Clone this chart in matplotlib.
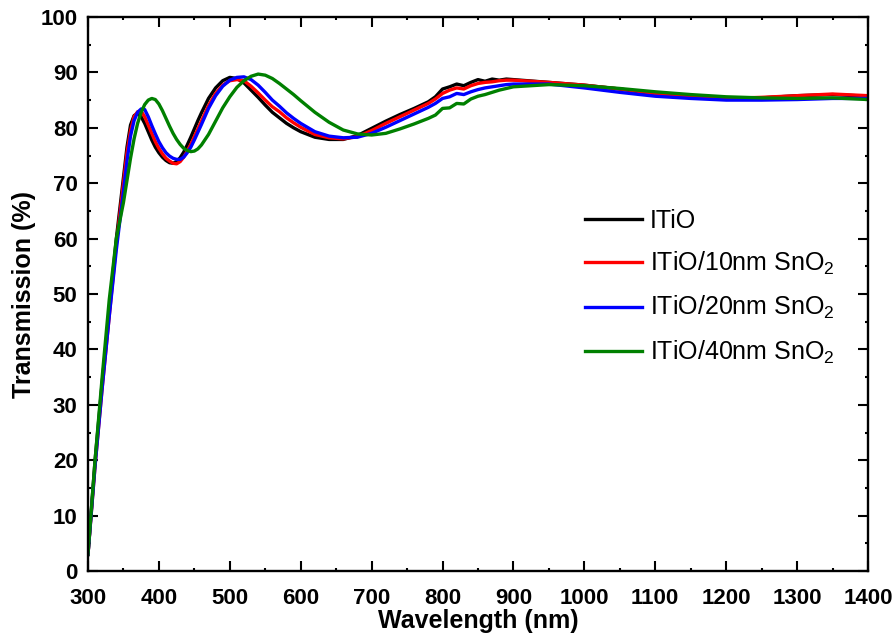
import numpy as np
import matplotlib.pyplot as plt
from matplotlib.ticker import MultipleLocator

plt.rcParams['font.family'] = ['Liberation Sans', 'DejaVu Sans']
plt.rcParams['mathtext.fontset'] = 'custom'
plt.rcParams['mathtext.rm'] = 'Liberation Sans'
plt.rcParams['mathtext.it'] = 'Liberation Sans:italic'
plt.rcParams['mathtext.bf'] = 'Liberation Sans:bold'

# wavelength grid (nm) shared by all spectra
wl = [300, 310, 320, 330, 340, 350, 355, 360, 365, 370, 375, 380, 385, 390, 395,
      400, 405, 410, 415, 420, 425, 430, 435, 440, 445, 450, 455, 460, 470, 480,
      490, 500, 510, 520, 530, 540, 550, 560, 570, 580, 590, 600, 620, 640, 660,
      680, 700, 720, 740, 760, 780, 790, 800, 810, 820, 830, 840, 850, 860, 870,
      880, 890, 900, 950, 1000, 1050, 1100, 1150, 1200, 1250, 1300, 1350, 1400]

t_itio = [3.0, 20, 34, 47, 60, 71, 76.5, 80.5, 82.2, 82.6, 82.0, 80.8, 79.3, 77.8, 76.5,
          75.5, 74.7, 74.1, 73.7, 73.6, 73.9, 74.6, 75.6, 76.9, 78.3, 79.8, 81.3, 82.7, 85.3, 87.2,
          88.5, 89.1, 88.9, 88.1, 86.8, 85.5, 84.1, 82.8, 81.8, 80.8, 80.0, 79.3, 78.3, 77.9, 77.9,
          78.6, 79.9, 81.2, 82.4, 83.5, 84.7, 85.6, 87.0, 87.4, 87.9, 87.6, 88.2, 88.7, 88.4, 88.8,
          88.6, 88.8, 88.7, 88.2, 87.7, 87.0, 86.1, 85.6, 85.2, 85.4, 85.8, 86.0, 85.7]

t_10nm = [3.0, 19, 33, 46, 59, 70, 75.5, 79.5, 82.0, 82.9, 83.0, 82.0, 80.5, 79.0, 77.5,
          76.3, 75.3, 74.5, 74.0, 73.6, 73.5, 73.9, 74.7, 75.8, 77.0, 78.4, 79.8, 81.2, 84.0, 86.2,
          87.7, 88.5, 88.7, 88.5, 87.5, 86.3, 85.0, 83.8, 82.9, 81.8, 80.9, 80.1, 78.8, 78.2, 78.0,
          78.4, 79.5, 80.8, 82.0, 83.2, 84.4, 85.2, 86.2, 86.8, 87.2, 87.0, 87.6, 88.0, 88.2, 88.3,
          88.5, 88.6, 88.6, 88.2, 87.7, 87.0, 86.2, 85.6, 85.3, 85.5, 85.8, 86.1, 85.8]

t_20nm = [3.0, 19, 33, 46, 58, 68.5, 74, 78.5, 81.3, 82.8, 83.4, 83.3, 82.0, 80.4, 78.9,
          77.5, 76.4, 75.5, 74.9, 74.5, 74.3, 74.3, 74.7, 75.5, 76.5, 77.8, 79.2, 80.6, 83.5, 85.8,
          87.5, 88.6, 89.1, 89.2, 88.7, 87.7, 86.4, 85.0, 83.9, 82.7, 81.7, 80.8, 79.3, 78.5, 78.2,
          78.3, 79.0, 80.1, 81.3, 82.5, 83.7, 84.4, 85.3, 85.6, 86.2, 86.0, 86.5, 86.9, 87.2, 87.4,
          87.6, 87.8, 87.9, 87.9, 87.2, 86.4, 85.7, 85.3, 85.0, 85.0, 85.1, 85.3, 85.3]

t_40nm = [3.0, 20, 35, 49, 60, 66.5, 70.5, 74.5, 78, 80.8, 82.8, 84.2, 85.0, 85.3, 85.1,
          84.3, 83.1, 81.7, 80.3, 79.0, 77.9, 77.0, 76.3, 75.9, 75.7, 75.8, 76.2, 76.9, 78.8, 81.2,
          83.6, 85.6, 87.3, 88.5, 89.3, 89.7, 89.5, 88.9, 88.0, 87.0, 86.0, 84.9, 82.8, 81.0, 79.6,
          78.9, 78.7, 79.0, 79.8, 80.7, 81.7, 82.3, 83.5, 83.6, 84.4, 84.3, 85.2, 85.7, 86.0, 86.4,
          86.8, 87.1, 87.4, 87.8, 87.6, 87.1, 86.5, 86.0, 85.6, 85.4, 85.3, 85.4, 85.1]

labels = ['ITiO', 'ITiO/10nm SnO$_2$', 'ITiO/20nm SnO$_2$', 'ITiO/40nm SnO$_2$']
colors = ['black', 'red', 'blue', 'green']

fig = plt.figure(figsize=(8.95, 6.37), dpi=100)
ax = fig.add_axes([0.0983, 0.1036, 0.8715, 0.8697])

for y, lab, c in zip([t_itio, t_10nm, t_20nm, t_40nm], labels, colors):
    ax.plot(wl, y, color=c, lw=2.4, label=lab)

ax.set_xlim(300, 1400)
ax.set_ylim(0, 100)
ax.xaxis.set_major_locator(MultipleLocator(100))
ax.xaxis.set_minor_locator(MultipleLocator(50))
ax.yaxis.set_major_locator(MultipleLocator(10))
ax.yaxis.set_minor_locator(MultipleLocator(5))
ax.tick_params(which='both', direction='in', top=True, right=True, width=1.5,
               labelsize=16, pad=7.5)
ax.tick_params(axis='x', which='both', pad=12.5)
ax.tick_params(which='major', length=7.5)
ax.tick_params(which='minor', length=2.5)
for lbl in ax.get_xticklabels() + ax.get_yticklabels():
    lbl.set_fontweight('bold')
for s in ax.spines.values():
    s.set_linewidth(1.7)

ax.set_xlabel('Wavelength (nm)', fontsize=18, fontweight='bold', labelpad=0)
ax.set_ylabel('Transmission (%)', fontsize=18, fontweight='bold', labelpad=3)

ax.legend(loc='center', bbox_to_anchor=(0.797, 0.512), frameon=False, fontsize=18,
          handlelength=2.3, handletextpad=0.3, labelspacing=0.68, borderpad=0)

fig.savefig('out.png', dpi=100)
